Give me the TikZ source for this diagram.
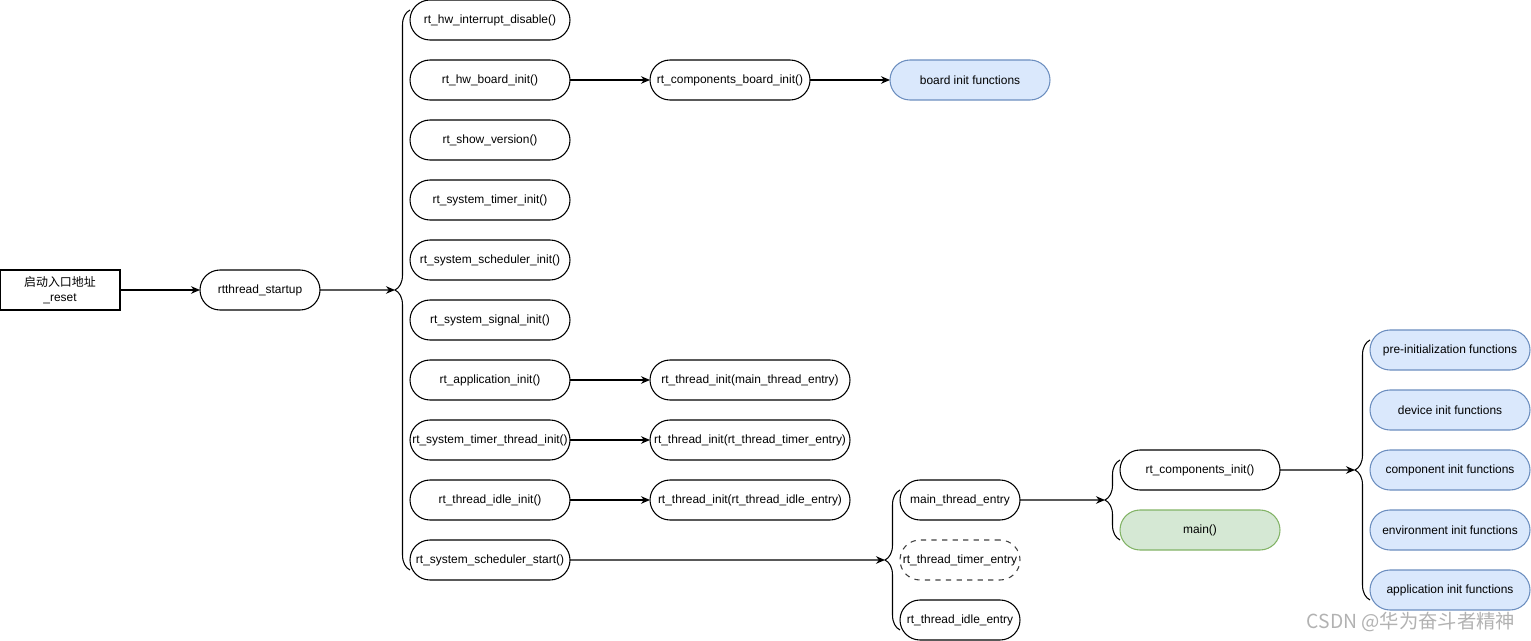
\documentclass[tikz,border=0pt]{standalone}
\usepackage{fontspec}
\setmainfont{Liberation Sans}
\newfontfamily\cjk{Noto Sans CJK SC}
\usetikzlibrary{arrows.meta,positioning,calc,decorations.pathreplacing}

\definecolor{initfill}{HTML}{DAE8FC}
\definecolor{initline}{HTML}{6C8EBF}
\definecolor{mainfill}{HTML}{D5E8D4}
\definecolor{mainline}{HTML}{82B366}

\begin{document}
\begin{tikzpicture}[
  every node/.style={font=\fontsize{6.8}{8.2}\selectfont},
  fn/.style={draw, line width=0.6pt, rounded corners=0.4cm, align=center, inner sep=0pt, outer sep=0pt, minimum width=3.2cm, minimum height=0.8cm},
  wide/.style={fn, minimum width=4cm},
  short/.style={fn, minimum width=2.4cm},
  blue/.style={fn, draw=initline, fill=initfill},
  green/.style={fn, draw=mainline, fill=mainfill},
  startbox/.style={draw, line width=0.6pt, align=center, inner sep=0pt, outer sep=0pt, minimum width=2.4cm, minimum height=0.8cm},
  arr/.style={-{Stealth[length=1.8mm,width=1.5mm]}, line width=0.6pt},
  bracket/.style={decorate, decoration={brace, amplitude=0.3cm}, line width=0.6pt}
]
\useasboundingbox (0,0) rectangle (30.62,-12.82);

\node[startbox] (reset) at (1.2,-5.8) {{\cjk 启动入口地址}\\\_reset};
\node[short, right=1.6cm of reset] (startup) {rtthread\_startup};

\node[fn] (disable) at (9.8,-0.4) {rt\_hw\_interrupt\_disable()};
\node[fn, below=0.4cm of disable] (board) {rt\_hw\_board\_init()};
\node[fn, below=0.4cm of board] (version) {rt\_show\_version()};
\node[fn, below=0.4cm of version] (timer) {rt\_system\_timer\_init()};
\node[fn, below=0.4cm of timer] (schedinit) {rt\_system\_scheduler\_init()};
\node[fn, below=0.4cm of schedinit] (signal) {rt\_system\_signal\_init()};
\node[fn, below=0.4cm of signal] (appinit) {rt\_application\_init()};
\node[fn, below=0.4cm of appinit] (timerthread) {rt\_system\_timer\_thread\_init()};
\node[fn, below=0.4cm of timerthread] (idleinit) {rt\_thread\_idle\_init()};
\node[fn, below=0.4cm of idleinit] (schedstart) {rt\_system\_scheduler\_start()};

\node[fn, right=1.6cm of board] (compboard) {rt\_components\_board\_init()};
\node[blue, right=1.6cm of compboard] (boardfns) {board init functions};

\node[wide, right=1.6cm of appinit] (mainthread) {rt\_thread\_init(main\_thread\_entry)};
\node[wide, right=1.6cm of timerthread] (timerinit) {rt\_thread\_init(rt\_thread\_timer\_entry)};
\node[wide, right=1.6cm of idleinit] (idlethread) {rt\_thread\_init(rt\_thread\_idle\_entry)};

\node[short] (mainentry) at (19.2,-10) {main\_thread\_entry};
\node[short, dashed, draw=black!75, below=0.4cm of mainentry] (timerentry) {rt\_thread\_timer\_entry};
\node[short, below=0.4cm of timerentry] (idleentry) {rt\_thread\_idle\_entry};

\node[fn] (compinit) at (24,-9.4) {rt\_components\_init()};
\node[green, below=0.4cm of compinit] (main) {main()};

\node[blue] (preinit) at (29,-7) {pre-initialization functions};
\node[blue, below=0.4cm of preinit] (device) {device init functions};
\node[blue, below=0.4cm of device] (component) {component init functions};
\node[blue, below=0.4cm of component] (environment) {environment init functions};
\node[blue, below=0.4cm of environment] (application) {application init functions};

\node[text=gray!60, font=\cjk\fontsize{11}{13}\selectfont] (wm) at (28.22,-12.44) {CSDN @华为奋斗者精神};

\draw[bracket] ($(schedstart.west)+(0,-0.2)$) -- ($(disable.west)+(0,0.2)$);
\coordinate (tipa) at ($(schedstart.west)!0.5!(disable.west)+(-0.3,0)$);
\draw[bracket] ($(idleentry.west)+(0,-0.2)$) -- ($(mainentry.west)+(0,0.2)$);
\coordinate (tipb) at ($(idleentry.west)!0.5!(mainentry.west)+(-0.3,0)$);
\draw[bracket] ($(main.west)+(0,-0.2)$) -- ($(compinit.west)+(0,0.2)$);
\coordinate (tipc) at ($(main.west)!0.5!(compinit.west)+(-0.3,0)$);
\draw[bracket] ($(application.west)+(0,-0.2)$) -- ($(preinit.west)+(0,0.2)$);
\coordinate (tipd) at ($(application.west)!0.5!(preinit.west)+(-0.3,0)$);

\draw[arr] (reset) -- (startup);
\draw[arr] (startup) -- (tipa);
\draw[arr] (board) -- (compboard);
\draw[arr] (compboard) -- (boardfns);
\draw[arr] (appinit) -- (mainthread);
\draw[arr] (timerthread) -- (timerinit);
\draw[arr] (idleinit) -- (idlethread);
\draw[arr] (schedstart) -- (tipb);
\draw[arr] (mainentry) -- (tipc);
\draw[arr] (compinit) -- (tipd);

\end{tikzpicture}
\end{document}
